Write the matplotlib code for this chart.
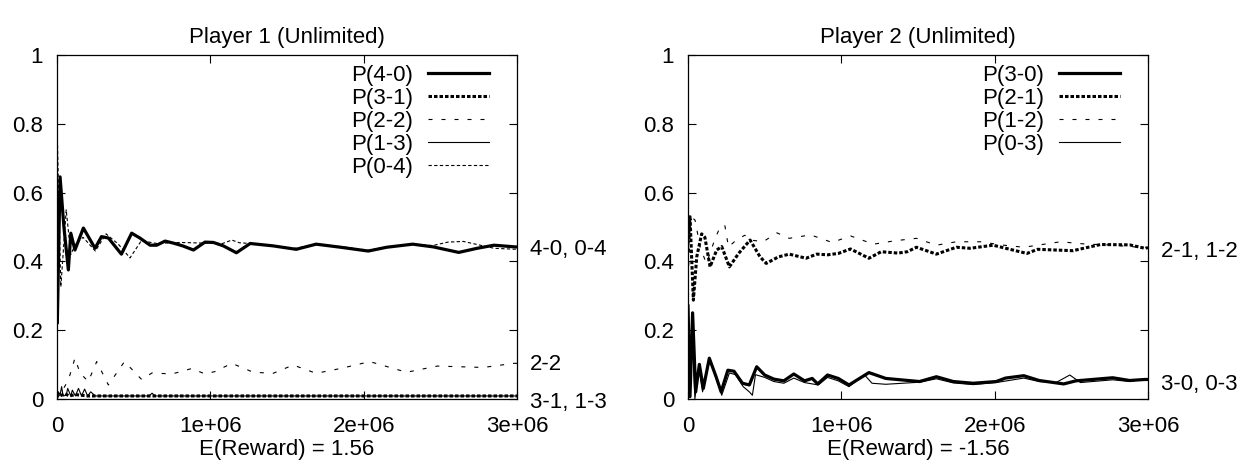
import matplotlib
matplotlib.use("Agg")
import matplotlib.pyplot as plt

plt.rcParams['font.family'] = ['Liberation Sans', 'DejaVu Sans']

# ---------------- Player 1 data (x in millions of iterations) ----------------
p1_40_x = [0.0, 0.002, 0.02, 0.045, 0.074, 0.09, 0.117, 0.172, 0.248, 0.29, 0.335, 0.42,
           0.487, 0.54, 0.607, 0.65, 0.705, 0.76, 0.82, 0.89, 0.965, 1.02, 1.085, 1.17,
           1.26, 1.41, 1.56, 1.69, 1.85, 2.03, 2.15, 2.32, 2.455, 2.62, 2.74, 2.85, 2.99, 3.0]
p1_40_y = [0.60, 0.22, 0.646, 0.50, 0.375, 0.482, 0.433, 0.497, 0.438, 0.472, 0.468, 0.421,
           0.482, 0.468, 0.447, 0.447, 0.459, 0.453, 0.445, 0.433, 0.456, 0.455, 0.445, 0.425,
           0.452, 0.445, 0.435, 0.450, 0.441, 0.430, 0.441, 0.450, 0.442, 0.426, 0.438, 0.447, 0.442, 0.442]

p1_04_x = [0.0, 0.003, 0.025, 0.06, 0.09, 0.12, 0.17, 0.25, 0.32, 0.40, 0.476, 0.55,
           0.65, 0.80, 0.97, 1.08, 1.14, 1.19, 1.26, 1.41, 1.56, 1.69, 1.85, 2.03, 2.15,
           2.32, 2.45, 2.55, 2.65, 2.75, 2.85, 3.0]
p1_04_y = [0.62, 0.745, 0.326, 0.55, 0.42, 0.45, 0.47, 0.43, 0.48, 0.45, 0.41, 0.46,
           0.452, 0.455, 0.453, 0.452, 0.462, 0.454, 0.452, 0.445, 0.438, 0.450, 0.443, 0.432, 0.442,
           0.450, 0.446, 0.456, 0.458, 0.448, 0.438, 0.435]

p1_22_x = [0.0, 0.03, 0.074, 0.117, 0.15, 0.204, 0.259, 0.335, 0.44, 0.552, 0.62, 0.75,
           0.88, 0.965, 1.03, 1.14, 1.28, 1.41, 1.54, 1.69, 1.85, 2.04, 2.28, 2.48,
           2.78, 2.98, 3.0]
p1_22_y = [0.0, 0.02, 0.054, 0.118, 0.075, 0.05, 0.108, 0.04, 0.108, 0.056, 0.075, 0.072,
           0.088, 0.072, 0.079, 0.103, 0.077, 0.074, 0.098, 0.074, 0.088, 0.108, 0.077, 0.095,
           0.091, 0.103, 0.103]

p1_31_x = [0.0, 0.02, 0.05, 0.08, 0.12, 0.2, 0.5, 1.0, 2.0, 3.0]
p1_31_y = [0.02, 0.008, 0.015, 0.008, 0.012, 0.008, 0.008, 0.008, 0.008, 0.008]

p1_13_x = [0.0, 0.02, 0.03, 0.04, 0.06, 0.07, 0.09, 0.10, 0.12, 0.14, 0.16, 0.18, 0.20,
           0.22, 0.25, 0.3, 0.6, 0.62, 0.64, 1.0, 2.0, 3.0]
p1_13_y = [0.01, 0.01, 0.035, 0.008, 0.01, 0.03, 0.008, 0.025, 0.008, 0.03, 0.008, 0.028,
           0.008, 0.02, 0.008, 0.008, 0.008, 0.016, 0.008, 0.008, 0.008, 0.008]

# ---------------- Player 2 data ----------------
p2_21_x = [0.0, 0.013, 0.035, 0.057, 0.089, 0.11, 0.144, 0.187, 0.22, 0.27, 0.33, 0.405,
           0.47, 0.51, 0.59, 0.66, 0.77, 0.84, 0.91, 0.98, 1.06, 1.18, 1.26, 1.37, 1.43,
           1.49, 1.62, 1.75, 1.84, 1.99, 2.21, 2.28, 2.51, 2.69, 2.88, 2.98, 3.0]
p2_21_y = [0.45, 0.53, 0.287, 0.413, 0.48, 0.47, 0.384, 0.433, 0.443, 0.384, 0.423, 0.462,
           0.413, 0.394, 0.413, 0.421, 0.409, 0.421, 0.419, 0.423, 0.436, 0.409, 0.428, 0.424, 0.428,
           0.441, 0.421, 0.441, 0.438, 0.447, 0.423, 0.435, 0.431, 0.449, 0.448, 0.438, 0.44]

p2_12_x = [0.0, 0.02, 0.046, 0.08, 0.12, 0.18, 0.21, 0.24, 0.264, 0.31, 0.37, 0.41,
           0.49, 0.58, 0.66, 0.80, 0.94, 1.06, 1.21, 1.35, 1.49, 1.62, 1.75, 1.905,
           2.06, 2.19, 2.43, 2.60, 2.74, 2.98, 3.0]
p2_12_y = [0.35, 0.53, 0.52, 0.44, 0.394, 0.47, 0.50, 0.505, 0.442, 0.46, 0.476, 0.462,
           0.457, 0.483, 0.467, 0.477, 0.455, 0.474, 0.450, 0.460, 0.467, 0.447, 0.457, 0.457,
           0.447, 0.441, 0.457, 0.450, 0.448, 0.440, 0.44]

p2_30_x = [0.0, 0.013, 0.03, 0.05, 0.074, 0.10, 0.139, 0.183, 0.216, 0.26, 0.30, 0.355,
           0.40, 0.448, 0.50, 0.56, 0.625, 0.69, 0.76, 0.81, 0.846, 0.91, 0.98, 1.05,
           1.18, 1.29, 1.51, 1.62, 1.73, 1.86, 2.01, 2.07, 2.19, 2.29, 2.45, 2.53,
           2.77, 2.88, 2.98, 3.0]
p2_30_y = [0.27, 0.006, 0.25, 0.02, 0.10, 0.03, 0.118, 0.064, 0.02, 0.083, 0.08, 0.045,
           0.04, 0.093, 0.069, 0.057, 0.052, 0.072, 0.052, 0.059, 0.043, 0.069, 0.059, 0.04,
           0.076, 0.059, 0.05, 0.064, 0.05, 0.045, 0.05, 0.06, 0.067, 0.053, 0.043, 0.052,
           0.061, 0.053, 0.056, 0.056]

p2_03_x = [0.0, 0.01, 0.025, 0.045, 0.07, 0.095, 0.14, 0.19, 0.22, 0.27, 0.31, 0.36,
           0.40, 0.42, 0.44, 0.50, 0.56, 0.625, 0.69, 0.76, 0.85, 0.91, 0.98, 1.05, 1.15,
           1.2, 1.29, 1.51, 1.62, 1.73, 1.86, 2.01, 2.19, 2.29, 2.40, 2.49, 2.56, 2.77,
           2.88, 2.98, 3.0]
p2_03_y = [0.33, 0.01, 0.20, 0.0, 0.09, 0.02, 0.11, 0.055, 0.01, 0.075, 0.07, 0.035,
           0.02, 0.01, 0.07, 0.062, 0.05, 0.045, 0.06, 0.047, 0.04, 0.062, 0.052, 0.035, 0.07,
           0.045, 0.042, 0.048, 0.058, 0.046, 0.041, 0.047, 0.06, 0.05, 0.047, 0.069, 0.047,
           0.055, 0.05, 0.058, 0.058]

xticks = [0, 1e6, 2e6, 3e6]
xticklabels = ['0', '1e+06', '2e+06', '3e+06']
yticks = [0, 0.2, 0.4, 0.6, 0.8, 1.0]
yticklabels = ['0', '0.2', '0.4', '0.6', '0.8', '1']

titles = ['Player 1 (Unlimited)', 'Player 2 (Unlimited)']
xlabels = ['E(Reward) = 1.56', 'E(Reward) = -1.56']
right_labels = [[(0.4185, '4-0, 0-4'), (0.0836, '2-2'), (-0.027, '3-1, 1-3')],
                [(0.4126, '2-1, 1-2'), (0.0253, '3-0, 0-3')]]

FS = 16

# line styles
thick_solid = dict(color='black', lw=2.3, linestyle='-')
thick_dot = dict(color='black', lw=2.2, linestyle=(0, (1.15, 0.65)))
sparse_dash = dict(color='black', lw=0.8, linestyle=(0, (3.6, 8.1)))
thin_solid = dict(color='black', lw=0.8, linestyle='-')
thin_dash = dict(color='black', lw=0.8, linestyle=(0, (3.0, 2.1)))

W, H = 1244, 468
fig = plt.figure(figsize=(W / 100, H / 100), dpi=100)
AX_BOTTOM_PX, AX_TOP_PX = 398.7, 55.3
AX_H = AX_BOTTOM_PX - AX_TOP_PX
ax1 = fig.add_axes([57 / W, 1 - AX_BOTTOM_PX / H, 460 / W, AX_H / H])
ax2 = fig.add_axes([688 / W, 1 - AX_BOTTOM_PX / H, 460 / W, AX_H / H])


def m(xs):
    return [v * 1e6 for v in xs]


series1 = [
    (p1_40_x, p1_40_y, 'P(4-0)', thick_solid, 5),
    (p1_31_x, p1_31_y, 'P(3-1)', thick_dot, 4),
    (p1_22_x, p1_22_y, 'P(2-2)', sparse_dash, 3),
    (p1_13_x, p1_13_y, 'P(1-3)', thin_solid, 3),
    (p1_04_x, p1_04_y, 'P(0-4)', thin_dash, 6),
]
series2 = [
    (p2_30_x, p2_30_y, 'P(3-0)', thick_solid, 5),
    (p2_21_x, p2_21_y, 'P(2-1)', thick_dot, 4),
    (p2_12_x, p2_12_y, 'P(1-2)', sparse_dash, 3),
    (p2_03_x, p2_03_y, 'P(0-3)', thin_solid, 6),
]

for ax, series, t, xl, rl in zip([ax1, ax2], [series1, series2], titles, xlabels, right_labels):
    for i, (xs, ys, lab, st, z) in enumerate(series):
        ax.plot(m(xs), ys, zorder=z, **st)
        # key entry (gnuplot style: text then sample)
        row_px = 72.7 + 23.0 * i
        yk = (AX_BOTTOM_PX - row_px) / AX_H
        ax.plot([0.8065, 0.939], [yk, yk], transform=ax.transAxes, clip_on=False, **st)
        ax.text(0.774, yk - 8.0 / AX_H, lab, transform=ax.transAxes, fontsize=FS,
                ha='right', va='baseline')
    ax.set_xlim(0, 3e6)
    ax.set_ylim(0, 1)
    ax.set_xticks(xticks)
    ax.set_xticklabels(xticklabels)
    ax.set_yticks(yticks)
    ax.set_yticklabels(yticklabels)
    ax.tick_params(direction='in', length=6, width=0.8, top=True, right=True,
                   labelsize=FS, color='black')
    ax.tick_params(axis='y', pad=10)
    ax.tick_params(axis='x', pad=12.5)
    for s in ax.spines.values():
        s.set_linewidth(0.9)
    ax.set_title(t, fontsize=FS, pad=9)
    ax.set_xlabel(xl, fontsize=FS, labelpad=1.5)
    for yv, txt in rl:
        ax.text(1.028, yv, txt, transform=ax.get_yaxis_transform(), fontsize=FS,
                ha='left', va='baseline')

fig.savefig('out.png', dpi=100)
